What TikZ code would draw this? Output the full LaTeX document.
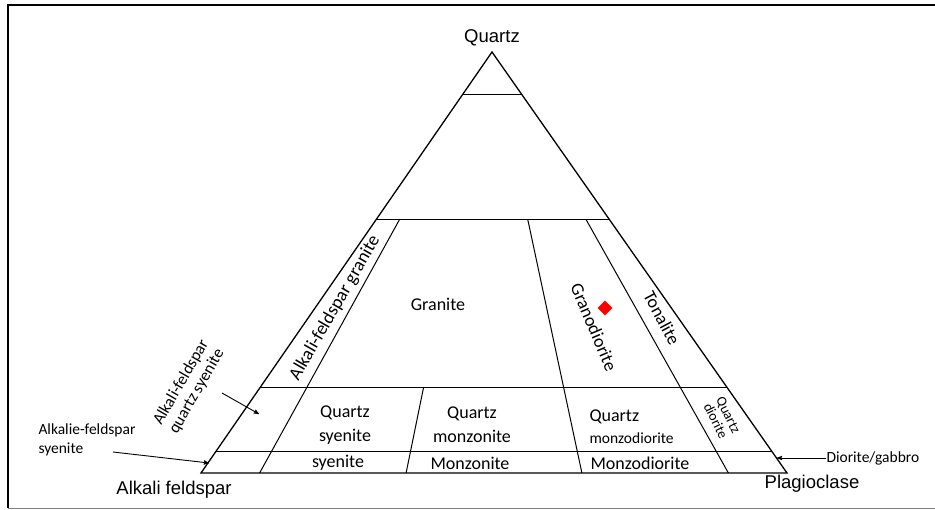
\documentclass[tikz,border=0pt]{standalone}
\usepackage{fontspec}
\setmainfont{Carlito}
\newfontfamily\arialf{Liberation Sans}
\usetikzlibrary{arrows,calc,shapes.geometric}

\begin{document}
\begin{tikzpicture}[x=1pt, y=-1pt, >=stealth', line width=1pt,
	field/.style={font=\fontsize{18}{24}\selectfont, align=center, inner sep=0pt},
	note/.style={font=\fontsize{15.5}{19}\selectfont, align=left, inner sep=0pt},
	apex/.style={font=\arialf\fontsize{18.5}{20}\selectfont, inner sep=0pt},
	pointer/.style={->, line width=0.9pt, shorten >=0pt}]
	\useasboundingbox (0,0) rectangle (935,510);

	% Frame
	\draw [line width=2.5pt] (935,5) -- (8,5) -- (8,508);
	\draw [gray, line width=1pt] (8,508.5) -- (935,508.5);

	% Corners {Q, A, P}
	\coordinate (Q) at (492,52);
	\coordinate (A) at (201,473);
	\coordinate (P) at (787,473);
	\draw [line width=1.3pt] (A) -- (Q) -- (P) -- cycle;

	% Quartz levels {90, 60, 20, 5}
	\foreach \f/\n in {0.898/a, 0.603/b, 0.202/c, 0.05/d}
		\draw ($(A)!\f!(Q)$) coordinate (\n l) -- ($(P)!\f!(Q)$) coordinate (\n r);

	% Plagioclase ratios {10, 35, 65, 90}
	\draw ($(bl)!0.1!(br)$)  -- ($(A)!0.1!(P)$);
	\draw ($(cl)!0.35!(cr)$) -- ($(A)!0.35!(P)$);
	\draw ($(bl)!0.65!(br)$) -- ($(A)!0.65!(P)$);
	\draw ($(bl)!0.9!(br)$)  -- ($(A)!0.9!(P)$);

	% End members
	\node [apex] (quartz)     at (492,38)  {Quartz};
	\node [apex] (alkali)     at (174,490) {Alkali feldspar};
	\node [apex] (plagio)     at (812,484) {Plagioclase};

	% Fields
	\node [field, rotate=60, font=\fontsize{18.5}{24}\selectfont] (afgranite) at (335,308) {Alkali-feldspar granite};
	\node [field]             (granite)   at (438,304) {Granite};
	\node [field, rotate=-67] (granodio)  at (594,327) {Granodiorite};
	\node [field, rotate=-62] (tonalite)  at (662,318) {Tonalite};
	\node [field]             (qsyen)     at (345,425) {Quartz\\syenite};
	\node [field]             (qmonz)     at (472,425) {Quartz\\monzonite};
	\node [field, align=left, anchor=west] (qmonzd) at (589,427)
		{Quartz\\[-2pt]{\fontsize{15.5}{17}\selectfont monzodiorite}};
	\node [note, align=center, rotate=-64, font=\fontsize{14}{14}\selectfont] (qdio) at (722,418) {Quartz\\diorite};
	\node [field]             (syen)      at (338,463) {syenite};
	\node [field]             (monz)      at (470,463) {Monzonite};
	\node [field]             (monzd)     at (640,463) {Monzodiorite};

	% Sample
	\node [diamond, fill=red, inner sep=0pt, minimum size=15pt] (sample) at (605,308) {};

	% Outside labels
	\node [note, anchor=west] (afsyen) at (38,440) {Alkalie-feldspar\\syenite};
	\node [note, align=center, rotate=60, font=\fontsize{16.5}{18}\selectfont] (afqsyen) at (189,387)
		{Alkali-feldspar\\quartz syenite};
	\node [note, anchor=west] (diogab) at (826,458) {Diorite/gabbro};

	% Pointers
	\coordinate (afsyen tail) at (113,452);
	\coordinate (afsyen tip)  at (209,463);
	\coordinate (afqsyen tail) at (222,393);
	\coordinate (afqsyen tip)  at (259,414);
	\coordinate (diogab tip)  at (777,458);
	\draw [pointer] (afsyen tail)  -- (afsyen tip);
	\draw [pointer] (afqsyen tail) -- (afqsyen tip);
	\draw [pointer] (diogab.west)  -- (diogab tip);

\end{tikzpicture}
\end{document}
